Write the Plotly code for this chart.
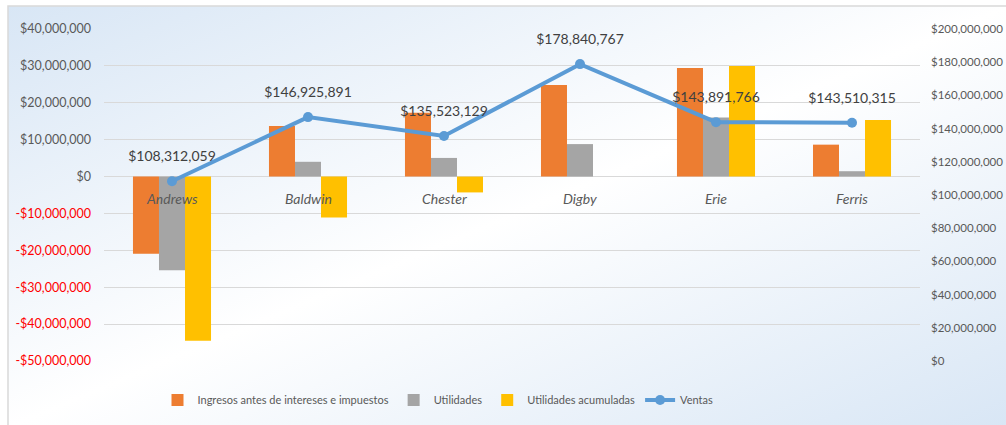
import urllib.parse
import plotly.graph_objects as go

# Datos por equipo
equipos = ["Andrews", "Baldwin", "Chester", "Digby", "Erie", "Ferris"]
ingresos_ebit = [-20900000, 13700000, 17300000, 24800000, 29400000, 8650000]
utilidades = [-25400000, 4000000, 5050000, 8800000, 16000000, 1450000]
utilidades_acum = [-44500000, -11100000, -4300000, 0, 30000000, 15300000]
ventas = [108312059, 146925891, 135523129, 178840767, 143891766, 143510315]

# Ejes
left_ticks = [40e6, 30e6, 20e6, 10e6, 0, -10e6, -20e6, -30e6, -40e6, -50e6]
left_text = ["$40,000,000", "$30,000,000", "$20,000,000", "$10,000,000", "$0",
             "-$10,000,000", "-$20,000,000", "-$30,000,000", "-$40,000,000", "-$50,000,000"]
right_ticks = [0, 20e6, 40e6, 60e6, 80e6, 100e6, 120e6, 140e6, 160e6, 180e6, 200e6]
right_text = ["$0", "$20,000,000", "$40,000,000", "$60,000,000", "$80,000,000",
              "$100,000,000", "$120,000,000", "$140,000,000", "$160,000,000",
              "$180,000,000", "$200,000,000"]

W, H = 1006, 425
ML, MR, MT, MB = 104, 86, 29, 63
PW, PH = W - ML - MR, H - MT - MB


def px_x(p):
    return (p - ML) / PW


def px_y(p):
    return (H - MB - p) / PH


FONT = "Lato"
TXT = "#595959"

fig = go.Figure()
fig.add_bar(x=equipos, y=ingresos_ebit, name="Ingresos antes de intereses e impuestos",
            marker=dict(color="#ED7D31", line=dict(width=0)), yaxis="y")
fig.add_bar(x=equipos, y=utilidades, name="Utilidades",
            marker=dict(color="#A5A5A5", line=dict(width=0)), yaxis="y")
fig.add_bar(x=equipos, y=utilidades_acum, name="Utilidades acumuladas",
            marker=dict(color="#FFC000", line=dict(width=0)), yaxis="y")
fig.add_scatter(x=equipos, y=ventas, name="Ventas", yaxis="y2",
                mode="lines+markers",
                line=dict(color="#5B9BD5", width=4),
                marker=dict(color="#5B9BD5", size=10))
# Etiquetas de valor de Ventas, un poco separadas del marcador
fig.add_scatter(x=equipos, y=ventas, yaxis="y2", mode="markers+text",
                marker=dict(size=25, opacity=0), showlegend=False, hoverinfo="skip",
                texttemplate="$%{y:,.0f}", textposition="top center",
                textfont=dict(family=FONT, size=14, color="#404040"))

# Fondo degradado del área del gráfico
svg = ('<svg xmlns="http://www.w3.org/2000/svg" width="1000" height="420" '
       'preserveAspectRatio="none"><defs><linearGradient id="g" x1="0" y1="0" x2="1" y2="1">'
       '<stop offset="0" stop-color="#d8e6f5"/><stop offset="0.5" stop-color="#ffffff"/>'
       '<stop offset="1" stop-color="#d8e6f5"/></linearGradient></defs>'
       '<rect width="100%" height="100%" fill="url(#g)"/></svg>')
bg_src = "data:image/svg+xml;charset=utf-8," + urllib.parse.quote(svg)

x0, y0 = px_x(8), px_y(6)
x1, y1 = px_x(W + 4), px_y(H + 4)
fig.add_layout_image(source=bg_src, xref="paper", yref="paper", x=x0, y=y0,
                     sizex=x1 - x0, sizey=y0 - y1, sizing="stretch",
                     xanchor="left", yanchor="top", layer="below")
fig.add_shape(type="rect", xref="paper", yref="paper", x0=x0, y0=y1, x1=x1, y1=y0,
              line=dict(color="#d9d9d9", width=1.5), layer="below")

# Etiquetas de categoría junto a la línea de cero
for e in equipos:
    fig.add_annotation(x=e, y=0, xref="x", yref="y", text=f"<i>{e}</i>",
                       showarrow=False, yanchor="middle", yshift=-22,
                       font=dict(family=FONT, size=14, color=TXT))

# Etiquetas negativas en rojo
left_labels = [f'<span style="color:#FF0000">{t}</span>' if v < 0 else t
               for v, t in zip(left_ticks, left_text)]

fig.update_layout(
    width=W, height=H,
    margin=dict(l=ML, r=MR, t=MT, b=MB),
    paper_bgcolor="white", plot_bgcolor="rgba(0,0,0,0)",
    barmode="group", bargap=0.426, bargroupgap=0,
    font=dict(family=FONT, size=12.5, color=TXT),
    xaxis=dict(showticklabels=False, showgrid=False, zeroline=False, showline=False,
               range=[-0.5, 5.5], automargin=False),
    yaxis=dict(range=[-50e6, 40e6], tickvals=left_ticks, ticktext=left_labels,
               showgrid=True, gridcolor="#d9d9d9", gridwidth=1,
               zeroline=True, zerolinecolor="#d9d9d9", zerolinewidth=1,
               showline=False, ticks="", ticklabelstandoff=12, automargin=False,
               tickfont=dict(family=FONT, size=12.5, color=TXT)),
    yaxis2=dict(range=[0, 200e6], tickvals=right_ticks, ticktext=right_text,
                overlaying="y", side="right", showgrid=False, zeroline=False,
                showline=False, ticks="", ticklabelstandoff=10, automargin=False,
                tickfont=dict(family=FONT, size=11.5, color=TXT)),
    legend=dict(orientation="h", x=px_x(438), xanchor="center",
                y=px_y(400), yanchor="middle", bgcolor="rgba(0,0,0,0)",
                font=dict(family=FONT, size=11, color=TXT),
                itemwidth=30, traceorder="normal"),
    showlegend=True,
)

fig.write_html("out.html")
